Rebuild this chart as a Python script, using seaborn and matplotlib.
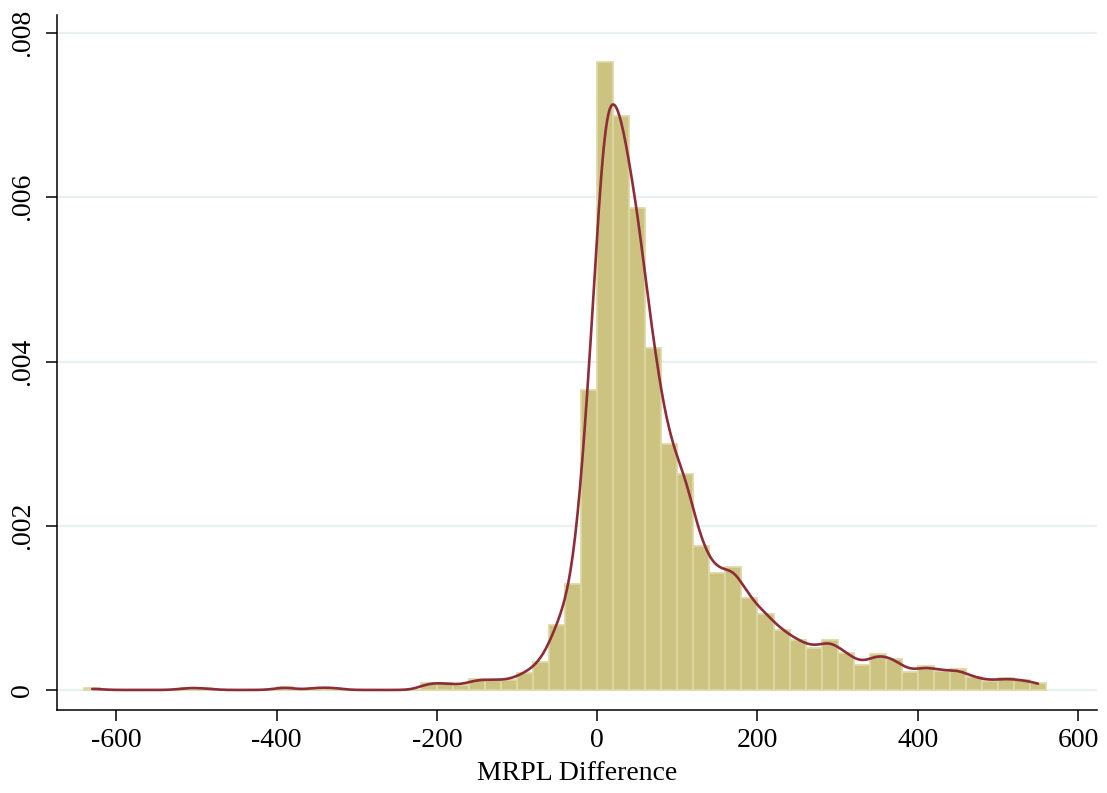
import numpy as np
import pandas as pd
import matplotlib
matplotlib.use("Agg")
import matplotlib.pyplot as plt
import seaborn as sns

# Histogram of MRPL differences: bins of width 20 starting at -640
bin_start = -640
bin_width = 20
density = [
    0.00002, 0.0, 0.0, 0.0, 0.0, 0.0,            # -640 .. -520
    0.00003, 0.00002, 0.0, 0.0, 0.0, 0.0,        # -520 .. -400
    0.00004, 0.0, 0.00003, 0.00003, 0.0, 0.0,    # -400 .. -280
    0.0, 0.0, 0.0,                               # -280 .. -220
    0.000089, 0.000081, 0.000057, 0.00013, 0.000122, 0.000122,  # -220 .. -100
    0.00021, 0.00034, 0.00079, 0.00129, 0.00365,               # -100 .. 0
    0.00765, 0.00699, 0.00587, 0.00417, 0.00300,               # 0 .. 100
    0.00263, 0.00175, 0.00143, 0.00150, 0.00112,               # 100 .. 200
    0.00093, 0.00073, 0.00061, 0.00051, 0.00061,               # 200 .. 300
    0.000455, 0.00031, 0.00044, 0.00038, 0.00022,              # 300 .. 400
    0.00029, 0.00023, 0.00025, 0.000155, 0.000113,             # 400 .. 500
    0.00014, 0.00012, 0.000085,                                # 500 .. 560
]
x_ticks = [-600, -400, -200, 0, 200, 400, 600]
y_ticks = [0, 0.002, 0.004, 0.006, 0.008]
y_tick_labels = ["0", ".002", ".004", ".006", ".008"]
x_label = "MRPL Difference"

edges = [bin_start + bin_width * i for i in range(len(density) + 1)]
centers = [e + bin_width / 2 for e in edges[:-1]]
df = pd.DataFrame({"mrpl_diff": centers, "wt": density})

sns.set_theme(style="white")
plt.rcParams["font.family"] = ["Liberation Serif", "DejaVu Serif"]

fig = plt.figure(figsize=(11.07, 7.93), dpi=100)
W, H = 1107, 793
ax = fig.add_axes([57 / W, (H - 710) / H, (1097 - 57) / W, (710 - 15) / H])

# Light horizontal grid behind everything
for yv in y_ticks:
    ax.axhline(yv, color="#E8F0F2", lw=1.6, zorder=0)

sns.histplot(
    data=df, x="mrpl_diff", weights="wt", bins=edges, stat="count",
    color="#CCC381", edgecolor="#DED8A6", linewidth=1.3, alpha=1.0,
    ax=ax,
)

# Kernel density estimate over the same data
bandwidth = 13.0
sd = float(np.sqrt(np.cov(np.asarray(centers), aweights=np.asarray(density))))
sns.kdeplot(
    data=df, x="mrpl_diff", weights="wt", bw_method=bandwidth / sd,
    cut=0, gridsize=800, color="#8C2D39", lw=1.9, ax=ax,
)
for coll in ax.patches:
    coll.set_zorder(2)
for line in ax.lines[len(y_ticks):]:
    line.set_zorder(3)

ax.set_xlim(-674, 623.6)
ax.set_ylim(-0.000244, 0.00822)

ax.set_xticks(x_ticks)
ax.set_xticklabels([str(v) for v in x_ticks])
ax.set_yticks(y_ticks)
ax.set_yticklabels(y_tick_labels, rotation=90, va="center")

ax.tick_params(axis="both", which="major", direction="out", length=8,
               width=1.1, color="black", labelsize=20, labelcolor="black",
               left=True, bottom=True)
ax.tick_params(axis="x", pad=5)
ax.tick_params(axis="y", pad=8)

ax.set_xlabel(x_label, fontsize=20, color="black", labelpad=6)
ax.set_ylabel("")

for side in ["top", "right"]:
    ax.spines[side].set_visible(False)
for side in ["left", "bottom"]:
    ax.spines[side].set_color("black")
    ax.spines[side].set_linewidth(1.1)

ax.grid(False)
fig.savefig("out.png", dpi=100, facecolor="white")
